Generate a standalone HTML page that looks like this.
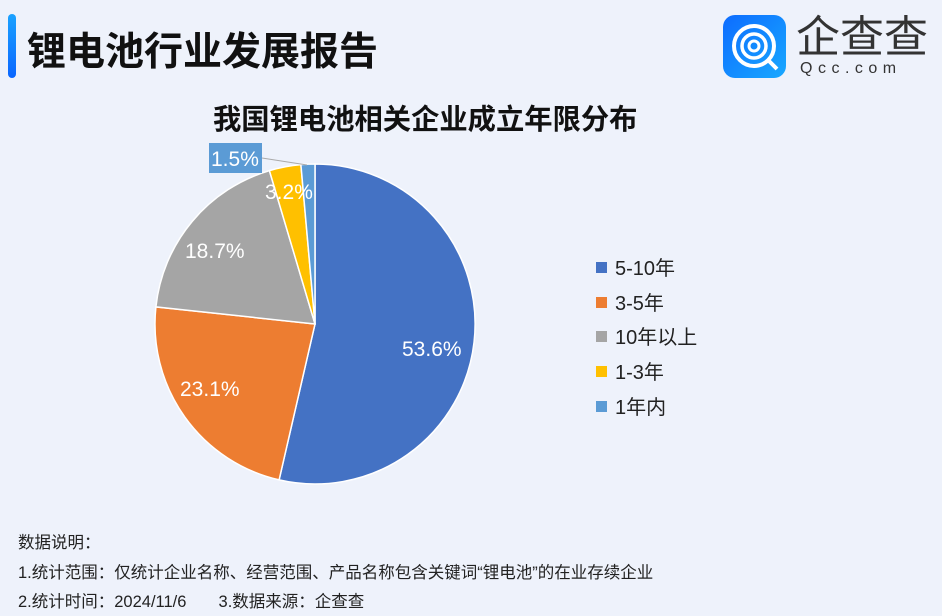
<!DOCTYPE html>
<html><head><meta charset="utf-8"><style>
body{margin:0;width:942px;height:616px;overflow:hidden;background:#eef2fb;font-family:"Liberation Sans","Noto Sans CJK SC",sans-serif;position:relative}
.t{position:absolute;white-space:nowrap}
</style></head><body>
<div style="position:absolute;left:8px;top:14px;width:8px;height:64px;border-radius:4px;background:linear-gradient(#1aa2ff,#0a66ff)"></div>
<div class="t" style="left:27px;top:21px;font-size:39px;font-weight:bold;color:#111">锂电池行业发展报告</div>
<div style="position:absolute;left:723px;top:15px;width:63px;height:63px;border-radius:12px;background:linear-gradient(135deg,#0d6cff,#18a8ff)">
<svg width="63" height="63"><circle cx="31" cy="31" r="20" fill="none" stroke="#fff" stroke-width="4"/><circle cx="31" cy="31" r="12" fill="none" stroke="#fff" stroke-width="3.5"/><circle cx="31" cy="31" r="5" fill="none" stroke="#fff" stroke-width="3"/><line x1="44" y1="44" x2="54" y2="54" stroke="#fff" stroke-width="4"/></svg></div>
<div class="t" style="left:796px;top:13px;font-size:44px;line-height:50px;color:#333">企查查</div>
<div class="t" style="left:800px;top:60px;font-size:16px;line-height:18px;color:#333;letter-spacing:5.5px">Qcc.com</div>
<div class="t" style="left:213px;top:97px;font-size:28.3px;font-weight:bold;color:#111">我国锂电池相关企业成立年限分布</div>
<svg style="position:absolute;left:0;top:0" width="942" height="616">
<g stroke="#fff" stroke-width="1.5">
<path d="M315,324 L315,164 A160,160 0 1 1 279.1,479.9 Z" fill="#4472c4"/>
<path d="M315,324 L279.1,479.9 A160,160 0 0 1 155.9,306.9 Z" fill="#ed7d31"/>
<path d="M315,324 L155.9,306.9 A160,160 0 0 1 269.4,170.6 Z" fill="#a5a5a5"/>
<path d="M315,324 L269.4,170.6 A160,160 0 0 1 300.9,164.6 Z" fill="#ffc000"/>
<path d="M315,324 L300.9,164.6 A160,160 0 0 1 315,164 Z" fill="#5b9bd5"/>
</g>
<line x1="262" y1="158" x2="307" y2="165" stroke="#aaa" stroke-width="1"/>
<rect x="209" y="143" width="53" height="30" fill="#5b9bd5"/>
<g fill="#fff" font-size="21" font-family="Liberation Sans,sans-serif">
<text x="211" y="166">1.5%</text>
<text x="265" y="199">3.2%</text>
<text x="185" y="258">18.7%</text>
<text x="180" y="396">23.1%</text>
<text x="402" y="356">53.6%</text>
</g>
<rect x="596" y="262" width="11" height="11" fill="#4472c4"/>
<rect x="596" y="297" width="11" height="11" fill="#ed7d31"/>
<rect x="596" y="331" width="11" height="11" fill="#a5a5a5"/>
<rect x="596" y="366" width="11" height="11" fill="#ffc000"/>
<rect x="596" y="401" width="11" height="11" fill="#5b9bd5"/>
<g fill="#222" font-size="20" font-family="Liberation Sans,Noto Sans CJK SC,sans-serif">
<text x="615" y="275">5-10年</text>
<text x="615" y="310">3-5年</text>
<text x="615" y="344">10年以上</text>
<text x="615" y="379">1-3年</text>
<text x="615" y="414">1年内</text>
</g>
</svg>
<div class="t" style="left:18px;top:529px;font-size:16.5px;color:#222">数据说明：</div>
<div class="t" style="left:18px;top:559px;font-size:16.5px;color:#222">1.统计范围：仅统计企业名称、经营范围、产品名称包含关键词“锂电池”的在业存续企业</div>
<div class="t" style="left:18px;top:588px;font-size:16.5px;color:#222">2.统计时间：2024/11/6&nbsp;&nbsp;&nbsp;&nbsp;&nbsp;&nbsp;&nbsp;3.数据来源：企查查</div>
</body></html>
